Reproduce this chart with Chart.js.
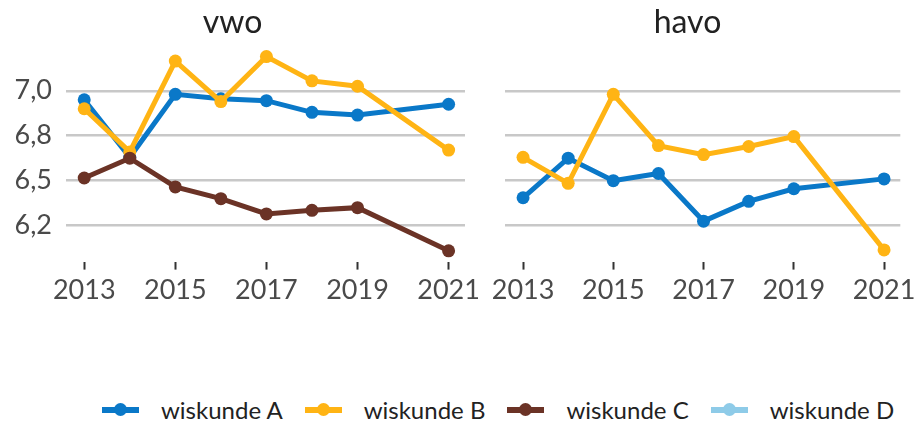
<!DOCTYPE html>
<html>
<head>
<meta charset="utf-8">
<script src="https://cdn.jsdelivr.net/npm/chart.js@4"></script>
<style>
  body { margin: 0; background: #fff; font-family: Lato, sans-serif; }
  #wrap { position: relative; width: 920px; height: 423px; overflow: hidden; }
  #c1 { position: absolute; left: 0; top: 0; }
  #c2 { position: absolute; left: 470px; top: 0; }
  #legend { position: absolute; left: 102px; top: 395px; display: flex; }
  .item { display: flex; align-items: center; margin-right: 22px; font-size: 24px; color: #222; }
  .mark { position: relative; width: 37px; height: 6px; margin-right: 22px; }
  .mark span { position: absolute; left: 12px; top: -4px; width: 13px; height: 13px; border-radius: 50%; }
</style>
</head>
<body>
<div id="wrap">
  <canvas id="c1" width="485" height="310"></canvas>
  <canvas id="c2" width="450" height="310"></canvas>
  <div id="legend"></div>
</div>
<script>
// years on the x axis; 2020 has no measurement
const years = [2013, 2014, 2015, 2016, 2017, 2018, 2019, 2020, 2021];
const xTicks = [2013, 2015, 2017, 2019, 2021];
const yTickValues = [6.25, 6.5, 6.75, 7.0];
const yTickLabels = ['6,2', '6,5', '6,8', '7,0'];

const seriesNames = ['wiskunde A', 'wiskunde B', 'wiskunde C', 'wiskunde D'];
const seriesColors = ['#0a78c8', '#ffb414', '#6b3326', '#8ecbe8'];

// vwo
const vwoA = [6.95, 6.63, 6.98, 6.955, 6.945, 6.88, 6.865, null, 6.925];
const vwoB = [6.90, 6.66, 7.165, 6.94, 7.19, 7.055, 7.025, null, 6.67];
const vwoC = [6.515, 6.625, 6.465, 6.40, 6.315, 6.335, 6.35, null, 6.11];
const vwoD = [null, null, null, null, null, null, null, null, null];

// havo
const havoA = [6.405, 6.625, 6.50, 6.54, 6.275, 6.385, 6.455, null, 6.51];
const havoB = [6.63, 6.485, 6.98, 6.695, 6.645, 6.69, 6.745, null, 6.115];
const havoC = [null, null, null, null, null, null, null, null, null];
const havoD = [null, null, null, null, null, null, null, null, null];

function toPoints(vals) {
    return years.map((yr, i) => ({ x: yr, y: vals[i] }));
}

function makeDatasets(lists) {
    // C on top, then B, then A
    const order = [2, 1, 0, 3];
    return lists.map((vals, i) => ({
        label: seriesNames[i],
        data: toPoints(vals),
        borderColor: seriesColors[i],
        backgroundColor: seriesColors[i],
        borderWidth: 5,
        pointRadius: 6.5,
        pointHoverRadius: 6.5,
        pointBorderWidth: 0,
        spanGaps: true,
        order: order[i]
    }));
}

function makeChart(id, title, lists, showY, yWidth, padRight) {
    const ctx = document.getElementById(id).getContext('2d');
    return new Chart(ctx, {
        type: 'line',
        data: { datasets: makeDatasets(lists) },
        options: {
            responsive: false,
            animation: false,
            layout: { padding: { top: 3, right: padRight, bottom: 0, left: 0 } },
            plugins: {
                legend: { display: false },
                tooltip: { enabled: false },
                title: {
                    display: true,
                    text: title,
                    color: '#222',
                    font: { family: 'Lato', size: 32, weight: 'normal', lineHeight: 1.2 },
                    padding: { top: 0, bottom: 8 }
                }
            },
            scales: {
                x: {
                    type: 'linear',
                    min: 2012.6,
                    max: 2021.36,
                    afterBuildTicks: (scale) => { scale.ticks = xTicks.map(v => ({ value: v })); },
                    border: { display: false },
                    grid: { drawOnChartArea: false, drawTicks: true, tickLength: 8, tickWidth: 2, tickColor: '#333' },
                    ticks: {
                        color: '#4a4a4a',
                        padding: 4,
                        maxRotation: 0,
                        font: { family: 'Lato', size: 27 },
                        callback: (v) => String(v)
                    }
                },
                y: {
                    min: 6.05,
                    max: 7.23,
                    afterBuildTicks: (scale) => { scale.ticks = yTickValues.map(v => ({ value: v })); },
                    afterFit: (scale) => { scale.width = yWidth; },
                    border: { display: false },
                    grid: { color: '#c8c8c8', lineWidth: 2.5, drawTicks: false },
                    ticks: {
                        display: showY,
                        color: '#4a4a4a',
                        padding: 14,
                        font: { family: 'Lato', size: 27 },
                        callback: (v) => yTickLabels[yTickValues.indexOf(v)]
                    }
                }
            }
        }
    });
}

makeChart('c1', 'vwo', [vwoA, vwoB, vwoC, vwoD], true, 66, 20);
makeChart('c2', 'havo', [havoA, havoB, havoC, havoD], false, 35, 15);

// legend
const legend = document.getElementById('legend');
seriesNames.forEach((name, i) => {
    const item = document.createElement('div');
    item.className = 'item';
    item.innerHTML = `<div class="mark" style="background:${seriesColors[i]}"><span style="background:${seriesColors[i]}"></span></div><span>${name}</span>`;
    legend.appendChild(item);
});
</script>
</body>
</html>
